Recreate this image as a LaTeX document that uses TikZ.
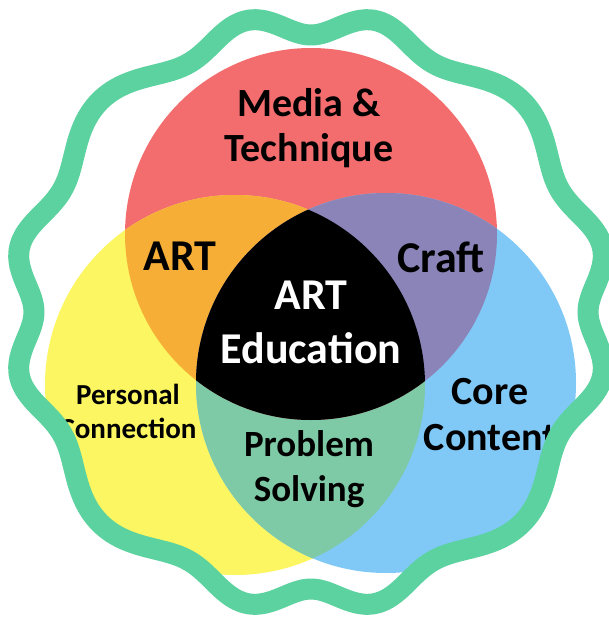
\documentclass[tikz,border=0pt]{standalone}
\usepackage{fontspec}
\setmainfont{Carlito}
\definecolor{cred}{HTML}{F36D6F}
\definecolor{cyel}{HTML}{FBF661}
\definecolor{cblu}{HTML}{80C9F7}
\definecolor{corg}{HTML}{F6AE36}
\definecolor{cpur}{HTML}{8B84B8}
\definecolor{cgrn}{HTML}{7FCAA6}
\definecolor{cwave}{HTML}{5BD29F}
\def\wavy{plot[domain=0:358.5,samples=240,smooth cycle] (\x:{287.75-10.75*cos(12*(\x+3.26*sin(4*\x)))})}
\begin{document}
\begin{tikzpicture}[x=1pt,y=-1pt,
  lbl/.style={font=\bfseries, align=center, inner sep=0pt, anchor=base},
  wavestroke/.style={draw=cwave, line width=21pt, line join=round}]
\useasboundingbox (0,0) rectangle (609,621);
\fill[white] (0,0) rectangle (609,621);
\coordinate (cr) at (311,234);
\coordinate (cy) at (235,385);
\coordinate (cb) at (386,383);
\coordinate (cw) at (311,312);
\begin{scope}
  \clip[shift={(cw)}] \wavy;
  \fill[cred] (cr) circle[radius=186];
  \fill[cyel] (cy) circle[radius=190];
  \fill[cblu] (cb) circle[radius=190];
  \begin{scope}
    \clip (cy) circle[radius=190];
    \fill[cgrn] (cb) circle[radius=190];
  \end{scope}
  \begin{scope}
    \clip (cr) circle[radius=186];
    \fill[corg] (cy) circle[radius=190];
    \fill[cpur] (cb) circle[radius=190];
    \clip (cy) circle[radius=190];
    \fill[black] (cb) circle[radius=190];
  \end{scope}
  \node[lbl, font=\bfseries\fontsize{40}{45}\selectfont] (media) at (309,161) {Media \&\\Technique};
  \node[lbl, font=\bfseries\fontsize{44}{50}\selectfont] (art) at (180,270) {ART};
  \node[lbl, font=\bfseries\fontsize{44}{50}\selectfont] (craft) at (441,272) {Craft};
  \node[lbl, text=white, font=\bfseries\fontsize{44}{54}\selectfont] (arted) at (311,363) {ART\\Education};
  \node[lbl, font=\bfseries\fontsize{29}{34}\selectfont] (pers) at (128,438) {Personal\\Connection};
  \node[lbl, font=\bfseries\fontsize{37}{45}\selectfont] (prob) at (309,501) {Problem\\Solving};
  \node[lbl, font=\bfseries\fontsize{40}{46}\selectfont] (core) at (490,450) {Core\\Content};
\end{scope}
\draw[wavestroke, shift={(cw)}] \wavy;
\end{tikzpicture}
\end{document}
